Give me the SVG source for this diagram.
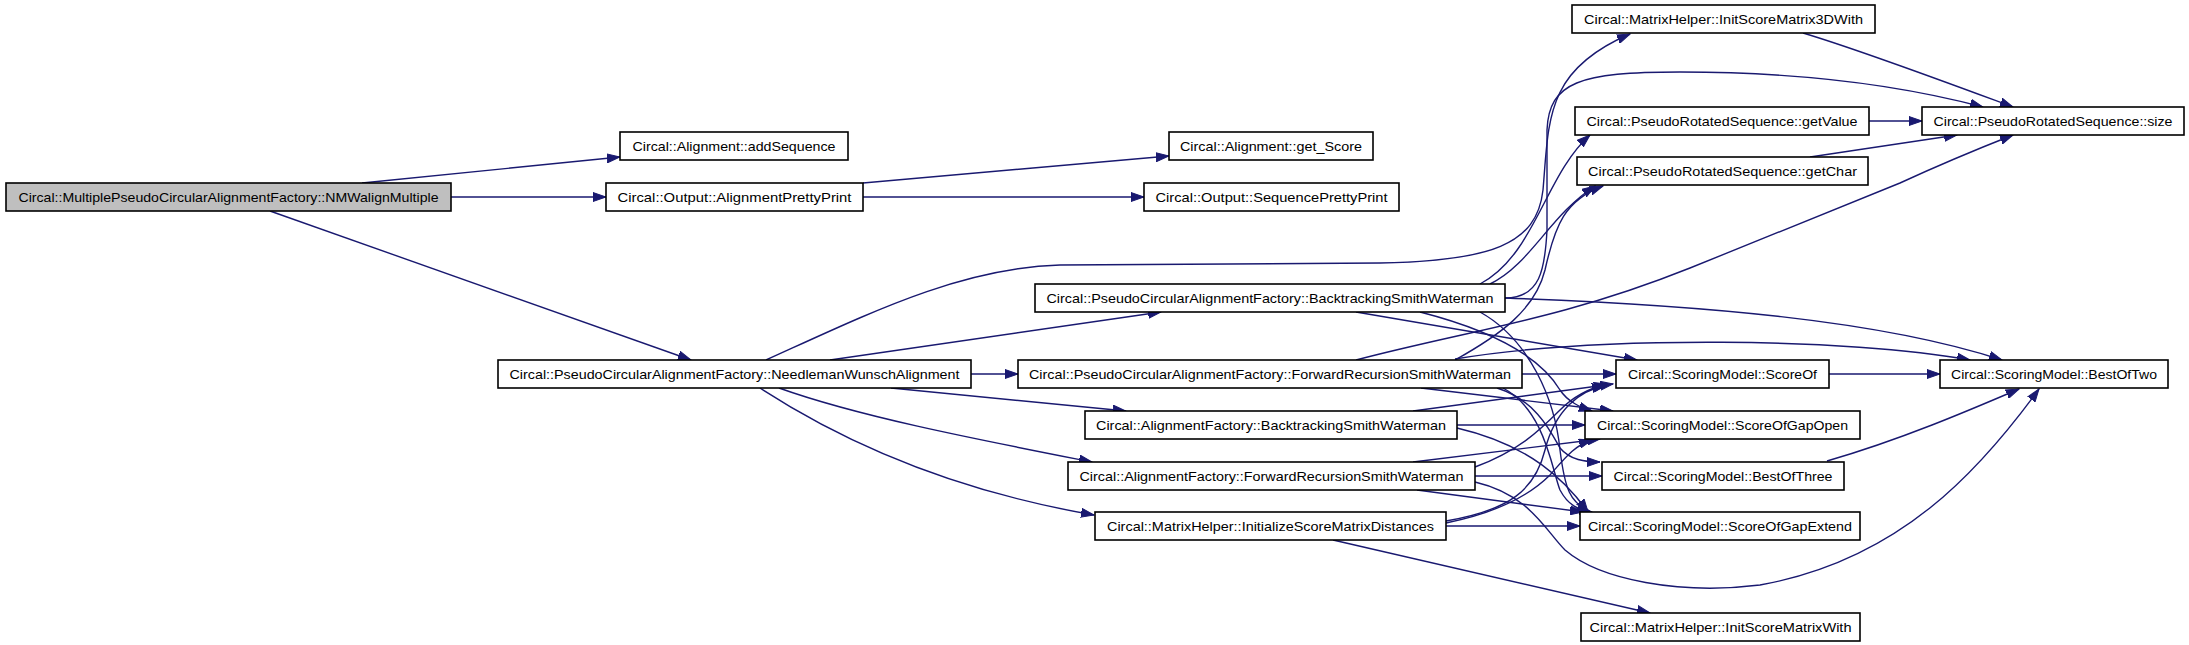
<svg xmlns="http://www.w3.org/2000/svg" width="2189" height="645" viewBox="0 0 2189 645">
<style>
.node rect{fill:#fff;stroke:#000;stroke-width:1.6}
.node text{font-family:"Liberation Sans",Arial,sans-serif;font-size:13.5px;fill:#000;text-anchor:middle}
.edge path{fill:none;stroke:#191970;stroke-width:1.4;marker-end:url(#arr)}
</style>
<defs>
<marker id="arr" markerUnits="userSpaceOnUse" markerWidth="14" markerHeight="10" refX="13" refY="5" orient="auto">
<path d="M0,0.5 L13,5 L0,9.5 z" fill="#191970" stroke="#191970" stroke-width="1"/>
</marker>
</defs>
<rect width="2189" height="645" fill="#fff"/>
<g id="connectors" class="edge">
<path d="M362,183 L620,157"/>
<path d="M451,197 L606,197"/>
<path d="M270,211 L691,360"/>
<path d="M863,183 L1169,156"/>
<path d="M863,197 L1144,197"/>
<path d="M830,360 L1161,312"/>
<path d="M971,374 L1018,374"/>
<path d="M891,388 L1126,411"/>
<path d="M779,388 C860,417 980,440 1092,462"/>
<path d="M760,388 C840,440 950,490 1094,515"/>
<path d="M766,360 C870,313 960,268 1060,265 L1380,263 C1490,261 1537,245 1543,190 C1549,120 1545,70 1630,34"/>
<path d="M1505,298 C1540,298 1545,270 1547,230 L1547,130 C1549,82 1580,72 1680,72 C1800,72 1900,85 1983,107"/>
<path d="M1480,284 C1535,255 1545,175 1590,135"/>
<path d="M1490,284 C1530,265 1550,215 1595,186"/>
<path d="M1455,360 C1500,335 1535,310 1545,270 C1555,225 1565,200 1603,186"/>
<path d="M1356,360 C1470,330 1560,320 1690,268 L1900,183 C1950,160 1980,148 2013,135"/>
<path d="M1505,298 C1700,305 1880,320 2002,360"/>
<path d="M1455,359 C1600,335 1850,338 1970,360"/>
<path d="M1522,374 L1616,374"/>
<path d="M1829,374 L1940,374"/>
<path d="M1356,312 L1637,360"/>
<path d="M1420,312 C1510,335 1545,365 1560,390 C1568,402 1580,407 1592,411"/>
<path d="M1480,312 C1530,340 1555,400 1560,450 C1565,490 1570,502 1590,512"/>
<path d="M1421,388 L1613,411"/>
<path d="M1497,388 C1535,400 1550,430 1560,448 C1570,460 1585,462 1600,462"/>
<path d="M1503,388 C1545,410 1552,470 1560,490 C1568,505 1578,510 1592,512"/>
<path d="M1413,411 L1613,384"/>
<path d="M1457,425 L1585,425"/>
<path d="M1457,428 C1530,445 1565,480 1588,512"/>
<path d="M1475,467 C1520,450 1540,430 1560,410 C1575,395 1590,388 1607,384"/>
<path d="M1413,462 L1600,439"/>
<path d="M1475,476 L1602,476"/>
<path d="M1417,490 L1583,512"/>
<path d="M1475,482 C1530,495 1545,530 1565,550 C1600,580 1680,595 1760,585 C1900,560 1980,470 2039,389"/>
<path d="M1446,521 C1510,510 1535,490 1545,450 C1555,410 1580,390 1605,386"/>
<path d="M1446,523 C1500,512 1530,495 1550,475 C1565,458 1575,445 1592,440"/>
<path d="M1446,526 L1580,526"/>
<path d="M1333,540 L1650,613"/>
<path d="M1827,461 C1900,440 1970,410 2019,389"/>
<path d="M1803,33 C1860,50 1940,80 2013,107"/>
<path d="M1869,121 L1922,121"/>
<path d="M1810,157 L1957,135"/>
</g>
<g id="n_nm" class="node"><rect x="6" y="183" width="445" height="28" style="fill:#bfbfbf"/><text x="228.5" y="202" textLength="420" lengthAdjust="spacingAndGlyphs">Circal::MultiplePseudoCircularAlignmentFactory::NMWalignMultiple</text></g>
<g id="n_addseq" class="node"><rect x="620" y="132" width="228" height="28"/><text x="734" y="151" textLength="203" lengthAdjust="spacingAndGlyphs">Circal::Alignment::addSequence</text></g>
<g id="n_app" class="node"><rect x="606" y="183" width="257" height="28"/><text x="734.5" y="202" textLength="234" lengthAdjust="spacingAndGlyphs">Circal::Output::AlignmentPrettyPrint</text></g>
<g id="n_getscore" class="node"><rect x="1169" y="132" width="204" height="28"/><text x="1271" y="151" textLength="182" lengthAdjust="spacingAndGlyphs">Circal::Alignment::get_Score</text></g>
<g id="n_spp" class="node"><rect x="1144" y="183" width="255" height="28"/><text x="1271.5" y="202" textLength="232" lengthAdjust="spacingAndGlyphs">Circal::Output::SequencePrettyPrint</text></g>
<g id="n_nw" class="node"><rect x="498" y="360" width="473" height="28"/><text x="734.5" y="379" textLength="450" lengthAdjust="spacingAndGlyphs">Circal::PseudoCircularAlignmentFactory::NeedlemanWunschAlignment</text></g>
<g id="n_pbsw" class="node"><rect x="1035" y="284" width="470" height="28"/><text x="1270" y="303" textLength="447" lengthAdjust="spacingAndGlyphs">Circal::PseudoCircularAlignmentFactory::BacktrackingSmithWaterman</text></g>
<g id="n_pfrsw" class="node"><rect x="1018" y="360" width="504" height="28"/><text x="1270" y="379" textLength="482" lengthAdjust="spacingAndGlyphs">Circal::PseudoCircularAlignmentFactory::ForwardRecursionSmithWaterman</text></g>
<g id="n_absw" class="node"><rect x="1085" y="411" width="372" height="28"/><text x="1271" y="430" textLength="350" lengthAdjust="spacingAndGlyphs">Circal::AlignmentFactory::BacktrackingSmithWaterman</text></g>
<g id="n_afrsw" class="node"><rect x="1068" y="462" width="407" height="28"/><text x="1271.5" y="481" textLength="384" lengthAdjust="spacingAndGlyphs">Circal::AlignmentFactory::ForwardRecursionSmithWaterman</text></g>
<g id="n_isd" class="node"><rect x="1095" y="512" width="351" height="28"/><text x="1270.5" y="531" textLength="327" lengthAdjust="spacingAndGlyphs">Circal::MatrixHelper::InitializeScoreMatrixDistances</text></g>
<g id="n_3d" class="node"><rect x="1572" y="5" width="303" height="28"/><text x="1723.5" y="24" textLength="279" lengthAdjust="spacingAndGlyphs">Circal::MatrixHelper::InitScoreMatrix3DWith</text></g>
<g id="n_getvalue" class="node"><rect x="1575" y="107" width="294" height="28"/><text x="1722" y="126" textLength="271" lengthAdjust="spacingAndGlyphs">Circal::PseudoRotatedSequence::getValue</text></g>
<g id="n_getchar" class="node"><rect x="1577" y="157" width="291" height="28"/><text x="1722.5" y="176" textLength="269" lengthAdjust="spacingAndGlyphs">Circal::PseudoRotatedSequence::getChar</text></g>
<g id="n_size" class="node"><rect x="1922" y="107" width="262" height="28"/><text x="2053" y="126" textLength="239" lengthAdjust="spacingAndGlyphs">Circal::PseudoRotatedSequence::size</text></g>
<g id="n_scoreof" class="node"><rect x="1616" y="360" width="213" height="28"/><text x="1722.5" y="379" textLength="189" lengthAdjust="spacingAndGlyphs">Circal::ScoringModel::ScoreOf</text></g>
<g id="n_gapopen" class="node"><rect x="1585" y="411" width="275" height="28"/><text x="1722.5" y="430" textLength="251" lengthAdjust="spacingAndGlyphs">Circal::ScoringModel::ScoreOfGapOpen</text></g>
<g id="n_bo3" class="node"><rect x="1602" y="462" width="242" height="28"/><text x="1723" y="481" textLength="219" lengthAdjust="spacingAndGlyphs">Circal::ScoringModel::BestOfThree</text></g>
<g id="n_gapext" class="node"><rect x="1580" y="512" width="280" height="28"/><text x="1720" y="531" textLength="264" lengthAdjust="spacingAndGlyphs">Circal::ScoringModel::ScoreOfGapExtend</text></g>
<g id="n_isw" class="node"><rect x="1581" y="613" width="279" height="28"/><text x="1720.5" y="632" textLength="262" lengthAdjust="spacingAndGlyphs">Circal::MatrixHelper::InitScoreMatrixWith</text></g>
<g id="n_bo2" class="node"><rect x="1940" y="360" width="228" height="28"/><text x="2054" y="379" textLength="206" lengthAdjust="spacingAndGlyphs">Circal::ScoringModel::BestOfTwo</text></g>
</svg>
